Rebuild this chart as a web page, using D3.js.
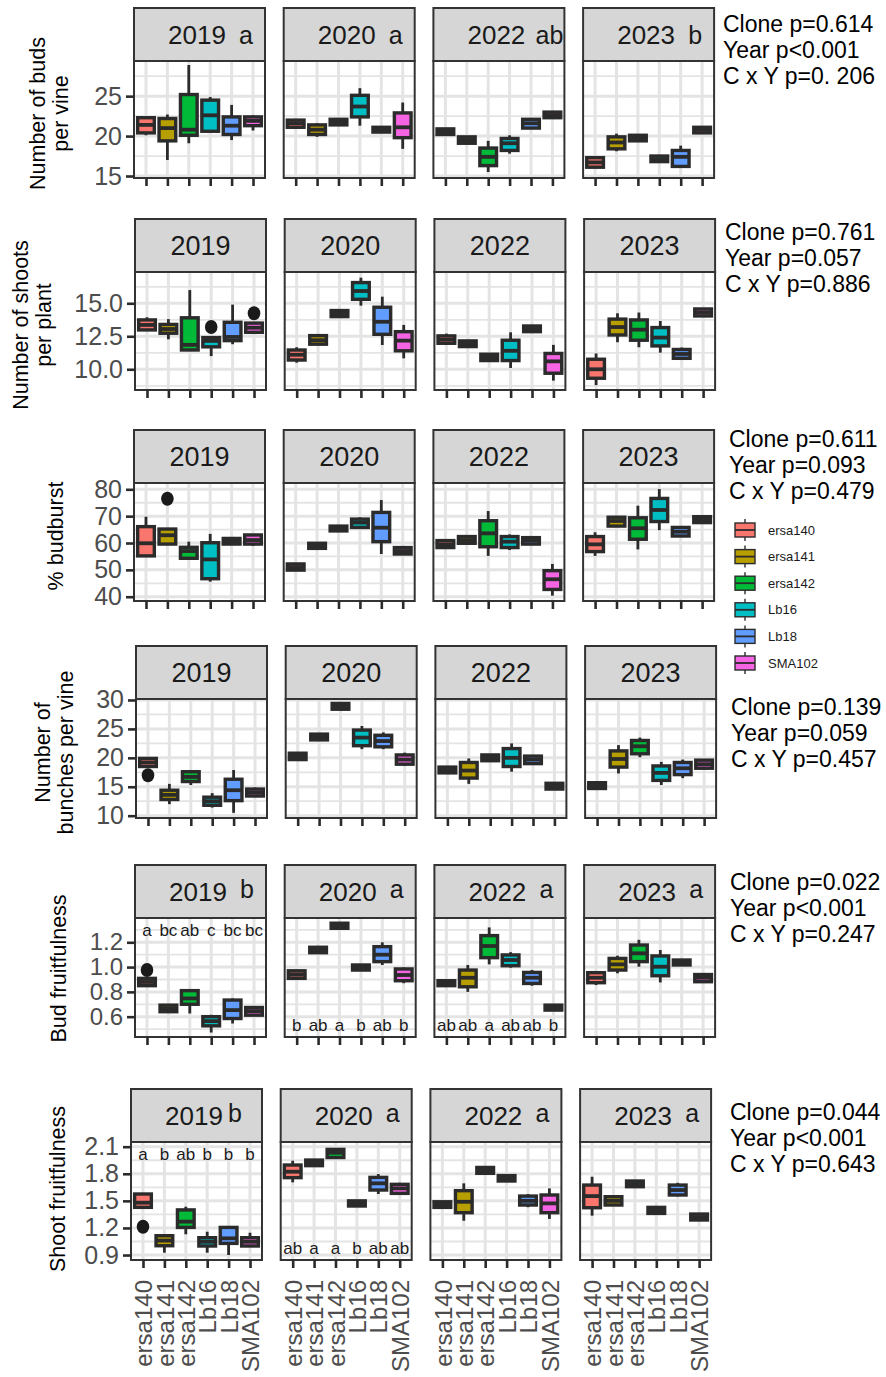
<!DOCTYPE html>
<html>
<head>
<meta charset="utf-8">
<script src="https://cdn.jsdelivr.net/npm/d3@7"></script>
<style>
  body { margin: 0; background: #fff; }
  svg text { font-family: "Liberation Sans", Arial, Helvetica, sans-serif; }
</style>
</head>
<body>
<div id="chart"></div>
<script>
// Box plots, six variables x four years, clones as colour

var clones = ["ersa140", "ersa141", "ersa142", "Lb16", "Lb18", "SMA102"];
var years = ["2019", "2020", "2022", "2023"];
var colors = ["#F8766D", "#B79F00", "#00BA38", "#00BFC4", "#619CFF", "#F564E3"];

// each box: [lower whisker, Q1, median, Q3, upper whisker], one block of 6 clones per year
var budsVine = [
  [[20.1,20.4,21.4,22.3,22.4],[17.0,19.4,21.0,22.2,22.7],[19.1,20.1,20.8,25.2,28.9],[20.5,20.6,22.6,24.5,24.9],[19.5,20.2,21.3,22.4,23.9],[20.7,21.3,21.9,22.4,22.6]],
  [[21.0,21.1,21.6,22.0,22.1],[19.9,20.2,20.8,21.4,21.6],[21.4,21.4,21.7,22.1,22.1],[21.3,22.4,23.7,25.1,26.0],[20.5,20.5,20.8,21.1,21.1],[18.4,19.8,21.1,22.9,24.2]],
  [[20.2,20.2,20.6,20.9,20.9],[19.1,19.1,19.5,19.9,19.9],[15.5,16.3,17.4,18.5,19.4],[17.8,18.2,19.1,19.7,20.1],[20.9,21.0,21.6,22.1,22.2],[22.3,22.3,22.6,23.0,23.0]],
  [[16.0,16.1,16.7,17.3,17.5],[18.1,18.4,19.2,19.9,20.3],[19.4,19.4,19.7,20.1,20.1],[16.8,16.8,17.1,17.5,17.5],[16.0,16.2,17.4,18.2,18.8],[20.4,20.4,20.8,21.1,21.1]]
];
var budsVineOut = [];

var shootsPlant = [
  [[12.93,12.98,13.36,13.74,13.94],[12.27,12.73,13.05,13.4,13.8],[11.46,11.46,11.85,13.9,16.0],[11.0,11.7,12.15,12.4,12.4],[11.9,12.17,12.45,13.56,14.9],[12.8,12.8,13.15,13.5,13.5]],
  [[10.5,10.7,11.1,11.46,11.67],[11.85,11.9,12.2,12.55,12.65],[13.99,13.99,14.2,14.45,14.45],[14.82,15.3,15.93,16.57,16.94],[11.84,12.65,13.6,14.7,15.5],[10.83,11.4,12.17,12.85,13.36]],
  [[11.85,11.97,12.25,12.53,12.7],[11.72,11.72,11.94,12.15,12.15],[10.66,10.66,10.9,11.14,11.14],[10.1,10.66,11.4,12.2,12.8],[12.85,12.85,13.05,13.28,13.28],[9.14,9.7,10.6,11.2,11.85]],
  [[8.8,9.32,10.0,10.76,11.2],[12.05,12.6,13.2,13.8,14.24],[11.67,12.2,13.0,13.74,14.3],[11.26,11.77,12.4,13.16,13.66],[10.75,10.83,11.16,11.5,11.65],[14.04,14.04,14.3,14.57,14.57]]
];
// outliers: [year index, clone index, value]
var shootsPlantOut = [[0, 3, 13.2], [0, 5, 14.25]];

var budburst = [
  [[55.2,55.2,59.9,66.1,69.8],[59.6,59.6,62.9,65.2,65.2],[54.3,54.3,57.0,58.4,60.5],[45.6,46.7,53.9,60.1,63.4],[59.6,59.6,60.7,61.7,61.7],[58.9,59.6,61.1,63.0,63.0]],
  [[49.9,49.9,51.0,52.2,52.2],[58.0,58.0,58.9,59.9,59.9],[64.5,64.5,65.5,66.3,66.3],[65.5,65.8,67.6,68.9,69.6],[55.9,60.5,65.7,71.4,76.0],[55.9,55.9,57.0,58.3,58.6]],
  [[58.3,58.3,59.5,60.9,60.9],[59.9,59.9,61.1,62.4,62.4],[55.2,58.6,63.6,68.3,71.9],[57.4,58.3,60.5,62.4,63.2],[59.6,59.6,60.9,62.0,62.0],[40.4,42.7,46.5,49.7,52.2]],
  [[55.2,56.8,59.5,62.4,64.0],[66.3,66.3,68.2,69.6,70.1],[57.6,61.4,65.5,69.4,73.9],[64.8,68.0,72.3,76.6,80.1],[62.4,62.6,64.2,65.8,66.0],[67.6,67.6,68.7,69.8,69.8]]
];
var budburstOut = [[0, 1, 76.5]];

var bunchesVine = [
  [[18.5,18.5,19.2,19.9,19.9],[12.0,12.8,13.6,14.4,15.5],[15.3,15.9,16.7,17.6,17.9],[11.4,11.8,12.5,13.2,13.9],[10.5,12.6,14.4,16.3,17.9],[13.4,13.4,14.0,14.6,14.9]],
  [[19.7,19.7,20.3,20.8,20.8],[23.1,23.1,23.6,24.1,24.1],[28.4,28.4,28.9,29.4,29.4],[21.5,22.1,23.5,24.8,25.5],[21.5,21.9,22.9,23.9,24.4],[18.6,18.9,19.7,20.5,20.9]],
  [[17.4,17.4,17.9,18.4,18.4],[15.5,16.5,17.8,19.2,19.9],[19.5,19.5,20.0,20.5,20.5],[17.6,18.5,20.0,21.6,22.5],[18.9,19.0,19.7,20.3,20.5],[14.6,14.6,15.1,15.6,15.6]],
  [[14.7,14.7,15.2,15.7,15.7],[17.3,18.4,19.8,21.2,22.2],[20.1,20.7,22.0,23.0,23.5],[15.3,16.1,17.4,18.6,19.3],[16.5,17.1,18.2,19.2,19.7],[18.0,18.2,18.9,19.6,19.8]]
];
var bunchesVineOut = [[0, 0, 17.0]];

var budFruit = [
  [[0.85,0.85,0.88,0.909,0.909],[0.64,0.64,0.666,0.693,0.693],[0.626,0.70,0.747,0.81,0.81],[0.472,0.526,0.564,0.6,0.615],[0.545,0.585,0.653,0.734,0.747],[0.612,0.612,0.645,0.674,0.674]],
  [[0.909,0.909,0.94,0.97,0.97],[1.116,1.116,1.138,1.16,1.16],[1.313,1.313,1.335,1.354,1.354],[0.976,0.976,0.995,1.017,1.017],[1.017,1.044,1.1,1.165,1.2],[0.87,0.89,0.936,0.985,0.998]],
  [[0.85,0.85,0.869,0.89,0.89],[0.8,0.841,0.914,0.976,1.017],[1.022,1.076,1.17,1.254,1.32],[0.995,1.011,1.057,1.098,1.12],[0.85,0.868,0.914,0.957,0.976],[0.653,0.653,0.674,0.693,0.693]],
  [[0.855,0.874,0.914,0.955,0.968],[0.95,0.976,1.022,1.07,1.092],[1.003,1.044,1.111,1.178,1.22],[0.876,0.93,1.003,1.09,1.138],[1.017,1.017,1.038,1.057,1.057],[0.876,0.882,0.914,0.94,0.948]]
];
var budFruitOut = [[0, 0, 0.976]];

var shootFruit = [
  [[1.428,1.428,1.48,1.576,1.576],[0.926,1.003,1.06,1.114,1.12],[1.13,1.206,1.27,1.4,1.435],[0.926,1.0,1.047,1.092,1.158],[0.9,1.029,1.085,1.206,1.206],[1.0,1.0,1.047,1.092,1.147]],
  [[1.705,1.757,1.823,1.897,1.945],[1.89,1.89,1.923,1.952,1.952],[1.97,1.98,2.033,2.07,2.08],[1.443,1.443,1.472,1.5,1.5],[1.576,1.62,1.694,1.76,1.797],[1.565,1.583,1.638,1.683,1.70]],
  [[1.428,1.428,1.46,1.49,1.49],[1.28,1.369,1.49,1.613,1.694],[1.805,1.805,1.838,1.87,1.87],[1.72,1.72,1.75,1.78,1.78],[1.43,1.454,1.5,1.553,1.575],[1.3,1.369,1.472,1.565,1.638]],
  [[1.336,1.424,1.553,1.675,1.767],[1.445,1.454,1.5,1.546,1.56],[1.657,1.657,1.686,1.72,1.72],[1.361,1.361,1.395,1.428,1.428],[1.55,1.565,1.62,1.675,1.70],[1.288,1.288,1.32,1.354,1.354]]
];
var shootFruitOut = [[0, 0, 1.214]];

var yTitles = [["Number of buds", "per vine"], ["Number of shoots", "per plant"], ["% budburst"],
               ["Number of", "bunches per vine"], ["Bud fruitfulness"], ["Shoot fruitfulness"]];
var yTicks = [[15, 20, 25], [10, 12.5, 15], [40, 50, 60, 70, 80], [10, 15, 20, 25, 30],
              [0.6, 0.8, 1.0, 1.2], [0.9, 1.2, 1.5, 1.8, 2.1]];
var yFormats = ["d", ".1f", "d", "d", ".1f", ".1f"];

// letters after year in strips (rows without letters: null)
var yearLetters = [["a", "a", "ab", "b"], null, null, null, ["b", "a", "a", "a"], ["b", "a", "a", "a"]];

// clone letters inside panels
var budFruitTop2019 = ["a", "bc", "ab", "c", "bc", "bc"];
var budFruitBottom2020 = ["b", "ab", "a", "b", "ab", "b"];
var budFruitBottom2022 = ["ab", "ab", "a", "ab", "ab", "b"];
var shootFruitTop2019 = ["a", "b", "ab", "b", "b", "b"];
var shootFruitBottom2020 = ["ab", "a", "a", "b", "ab", "ab"];

var statLines = [
  ["Clone p=0.614", "Year p<0.001", "C x Y p=0. 206"],
  ["Clone p=0.761", "Year p=0.057", "C x Y p=0.886"],
  ["Clone p=0.611", "Year p=0.093", "C x Y p=0.479"],
  ["Clone p=0.139", "Year p=0.059", "C x Y p=0.457"],
  ["Clone p=0.022", "Year p<0.001", "C x Y p=0.247"],
  ["Clone p=0.044", "Year p<0.001", "C x Y p=0.643"]
];

// ---- layout ----
var width = 886, height = 1377;
var panelW = 131, panelPitch = 149.7, stripH = 53;
var rowData = [budsVine, shootsPlant, budburst, bunchesVine, budFruit, shootFruit];
var rowOut = [budsVineOut, shootsPlantOut, budburstOut, bunchesVineOut, budFruitOut, shootFruitOut];
var rowLayout = [
  {x0: 134, plotTop: 61,   plotBottom: 178,  lim: [14.75, 29.4],  titleX: [45, 68], titleDy: -6,  tickFont: 25, statX: 723, statY: 32},
  {x0: 135, plotTop: 272,  plotBottom: 390,  lim: [8.43, 17.37],  titleX: [28, 51], titleDy: -6,  tickFont: 25, statX: 725, statY: 240},
  {x0: 134, plotTop: 483,  plotBottom: 601,  lim: [38.4, 82.35],  titleX: [63],     titleDy: -6,  tickFont: 25, statX: 729, statY: 447},
  {x0: 136, plotTop: 699,  plotBottom: 818,  lim: [9.6, 30.17],   titleX: [50, 73], titleDy: -6,  tickFont: 25, statX: 731, statY: 715},
  {x0: 135, plotTop: 918,  plotBottom: 1037, lim: [0.436, 1.396], titleX: [66],     titleDy: -9,  tickFont: 24, statX: 730, statY: 890},
  {x0: 131, plotTop: 1142, plotBottom: 1260, lim: [0.845, 2.152], titleX: [65],     titleDy: -12, tickFont: 25, statX: 730, statY: 1120}
];
var annotations = [
  {row: 4, year: 0, pos: "top", labels: budFruitTop2019},
  {row: 4, year: 1, pos: "bottom", labels: budFruitBottom2020},
  {row: 4, year: 2, pos: "bottom", labels: budFruitBottom2022},
  {row: 5, year: 0, pos: "top", labels: shootFruitTop2019},
  {row: 5, year: 1, pos: "bottom", labels: shootFruitBottom2020}
];

var ink = "#2b2b2b", gridCol = "#e4e4e4";

var svg = d3.select("#chart").append("svg")
    .attr("width", width)
    .attr("height", height);

var x = d3.scalePoint().domain(clones).range([0, panelW]).padding(0.56);
var boxW = x.step() * 0.78;
var color = d3.scaleOrdinal().domain(clones).range(colors);

rowData.forEach(function(data, r) {
  var L = rowLayout[r];
  var y = d3.scaleLinear().domain(L.lim).range([L.plotBottom, L.plotTop]);
  var ticks = yTicks[r];
  var step = ticks[1] - ticks[0];
  var minor = d3.range(ticks[0] - step / 2, L.lim[1], step).filter(function(v) { return v > L.lim[0]; });

  years.forEach(function(yr, j) {
    var px = L.x0 + j * panelPitch;
    var g = svg.append("g").attr("transform", "translate(" + px + ",0)");

    // panel background + grid
    g.append("rect").attr("x", 0).attr("y", L.plotTop).attr("width", panelW)
      .attr("height", L.plotBottom - L.plotTop).attr("fill", "#fff");
    g.selectAll(".minor").data(minor).enter().append("line")
      .attr("x1", 0).attr("x2", panelW)
      .attr("y1", function(d) { return y(d); }).attr("y2", function(d) { return y(d); })
      .attr("stroke", gridCol).attr("stroke-width", 1.8);
    g.selectAll(".major").data(ticks).enter().append("line")
      .attr("x1", 0).attr("x2", panelW)
      .attr("y1", function(d) { return y(d); }).attr("y2", function(d) { return y(d); })
      .attr("stroke", gridCol).attr("stroke-width", 3);
    g.selectAll(".vgrid").data(clones).enter().append("line")
      .attr("x1", function(d) { return x(d); }).attr("x2", function(d) { return x(d); })
      .attr("y1", L.plotTop).attr("y2", L.plotBottom)
      .attr("stroke", gridCol).attr("stroke-width", 3);

    // boxes
    var boxes = g.selectAll(".box").data(data[j]).enter().append("g")
      .attr("transform", function(d, i) { return "translate(" + x(clones[i]) + ",0)"; });
    boxes.append("line")
      .attr("x1", 0).attr("x2", 0)
      .attr("y1", function(d) { return y(d[0]); }).attr("y2", function(d) { return y(d[4]); })
      .attr("stroke", ink).attr("stroke-width", 2.8);
    boxes.append("rect")
      .attr("x", -boxW / 2).attr("width", boxW)
      .attr("y", function(d) { return y(d[3]); })
      .attr("height", function(d) { return Math.max(0.5, y(d[1]) - y(d[3])); })
      .attr("fill", function(d, i) { return color(clones[i]); })
      .attr("stroke", ink).attr("stroke-width", 3.4);
    boxes.append("line")
      .attr("x1", -boxW / 2).attr("x2", boxW / 2)
      .attr("y1", function(d) { return y(d[2]); }).attr("y2", function(d) { return y(d[2]); })
      .attr("stroke", ink).attr("stroke-width", 3.8);

    // outliers
    g.selectAll(".out").data(rowOut[r].filter(function(o) { return o[0] === j; })).enter()
      .append("ellipse")
      .attr("cx", function(o) { return x(clones[o[1]]); })
      .attr("cy", function(o) { return y(o[2]); })
      .attr("rx", 6.3).attr("ry", 7)
      .attr("fill", "#1a1a1a");

    // panel border
    g.append("rect").attr("x", 0).attr("y", L.plotTop).attr("width", panelW)
      .attr("height", L.plotBottom - L.plotTop)
      .attr("fill", "none").attr("stroke", "#333").attr("stroke-width", 2);

    // strip
    g.append("rect").attr("x", 0).attr("y", L.plotTop - stripH).attr("width", panelW)
      .attr("height", stripH).attr("fill", "#d6d6d6")
      .attr("stroke", "#333").attr("stroke-width", 2);
    var letters = yearLetters[r];
    var ty = L.plotTop - stripH / 2 + 9.5;
    if (letters) {
      var lx = (r === 5 && j === 0) ? 104 : (letters[j].length > 1 ? 116 : 112);
      g.append("text").attr("x", 63).attr("y", ty).attr("text-anchor", "middle")
        .attr("font-size", 26).attr("fill", "#1a1a1a").text(yr);
      g.append("text").attr("x", lx).attr("y", r === 0 ? ty : ty - 3)
        .attr("text-anchor", "middle")
        .attr("font-size", 25).attr("fill", "#1a1a1a").text(letters[j]);
    } else {
      g.append("text").attr("x", panelW / 2).attr("y", ty).attr("text-anchor", "middle")
        .attr("font-size", 27).attr("fill", "#1a1a1a").text(yr);
    }

    // x axis ticks
    var xa = g.append("g").attr("transform", "translate(0," + L.plotBottom + ")")
      .call(d3.axisBottom(x).tickSize(8).tickSizeOuter(0));
    xa.select(".domain").remove();
    xa.selectAll("line").attr("stroke", ink).attr("stroke-width", 2.6);
    if (r === 5) {
      xa.selectAll("text")
        .attr("transform", "rotate(-90)")
        .attr("x", -20).attr("y", 0).attr("dy", "0.36em")
        .attr("text-anchor", "end")
        .attr("font-size", 24).attr("fill", "#4d4d4d");
    } else {
      xa.selectAll("text").remove();
    }

    // y axis on first panel only
    if (j === 0) {
      var ya = g.append("g")
        .call(d3.axisLeft(y).tickValues(ticks).tickSize(8).tickFormat(d3.format(yFormats[r])));
      ya.select(".domain").remove();
      ya.selectAll("line").attr("stroke", ink).attr("stroke-width", 2.6);
      ya.selectAll("text").attr("x", -12).attr("font-size", L.tickFont).attr("fill", "#4d4d4d");
    }
  });

  // clone letters inside panels
  annotations.filter(function(a) { return a.row === r; }).forEach(function(a) {
    var px = L.x0 + a.year * panelPitch;
    svg.append("g").selectAll("text").data(a.labels).enter().append("text")
      .attr("x", function(d, i) { return px + x(clones[i]); })
      .attr("y", a.pos === "top" ? L.plotTop + 18 : L.plotBottom - 6)
      .attr("text-anchor", "middle")
      .attr("font-size", 17).attr("fill", "#1a1a1a")
      .text(function(d) { return d; });
  });

  // y axis title
  var mid = (L.plotTop + L.plotBottom) / 2 + L.titleDy;
  yTitles[r].forEach(function(t, k) {
    svg.append("text")
      .attr("transform", "translate(" + L.titleX[k] + "," + mid + ") rotate(-90)")
      .attr("text-anchor", "middle")
      .attr("font-size", 21.5).attr("fill", "#000")
      .text(t);
  });

  // statistics
  svg.append("g").selectAll("text").data(statLines[r]).enter().append("text")
    .attr("x", L.statX)
    .attr("y", function(d, k) { return L.statY + k * 26; })
    .attr("font-size", 23).attr("fill", "#000")
    .text(function(d) { return d; });
});

// legend
var legend = svg.append("g").attr("transform", "translate(735,530)");
var keys = legend.selectAll("g").data(clones).enter().append("g")
  .attr("transform", function(d, i) { return "translate(0," + (i * 26.6) + ")"; });
keys.append("line").attr("x1", 10).attr("x2", 10).attr("y1", -11).attr("y2", 11)
  .attr("stroke", ink).attr("stroke-width", 1.4);
keys.append("rect").attr("x", 0).attr("y", -7).attr("width", 20).attr("height", 14)
  .attr("fill", function(d) { return color(d); })
  .attr("stroke", ink).attr("stroke-width", 1.4);
keys.append("line").attr("x1", 0).attr("x2", 20).attr("y1", 0).attr("y2", 0)
  .attr("stroke", ink).attr("stroke-width", 1.8);
keys.append("text").attr("x", 33).attr("y", 0).attr("dy", "0.35em")
  .attr("font-size", 13).attr("fill", "#1a1a1a")
  .text(function(d) { return d; });
</script>
</body>
</html>
